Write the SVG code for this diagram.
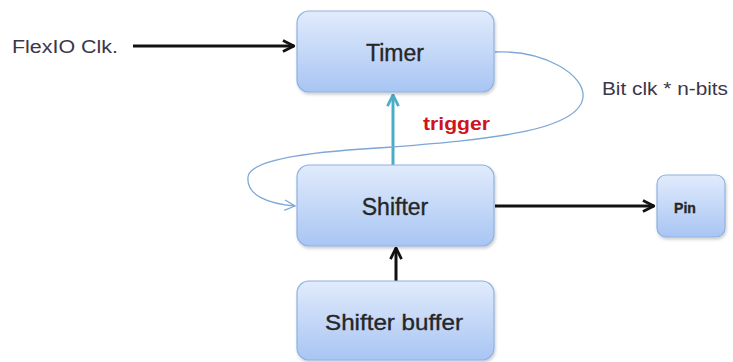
<svg xmlns="http://www.w3.org/2000/svg" width="733" height="362" viewBox="0 0 733 362">
<defs>
<linearGradient id="boxg" x1="0" y1="0" x2="0" y2="1">
<stop offset="0" stop-color="#e1ebfc"/>
<stop offset="1" stop-color="#a8c5f3"/>
</linearGradient>
<filter id="sh" x="-10%" y="-10%" width="125%" height="130%">
<feDropShadow dx="1" dy="2" stdDeviation="1.5" flood-color="#000" flood-opacity="0.2"/>
</filter>
<marker id="ab" viewBox="0 0 10 10" refX="9" refY="5" markerWidth="4.6" markerHeight="4.6" orient="auto" markerUnits="strokeWidth">
<path d="M1,1 L9,5 L1,9" fill="none" stroke="#111" stroke-width="2"/>
</marker>
<marker id="ac" viewBox="0 0 10 10" refX="9" refY="5" markerWidth="4.6" markerHeight="4.6" orient="auto" markerUnits="strokeWidth">
<path d="M1,1 L9,5 L1,9" fill="none" stroke="#4bacc6" stroke-width="2"/>
</marker>
<marker id="al" viewBox="0 0 10 10" refX="9" refY="5" markerWidth="10" markerHeight="10" orient="auto" markerUnits="strokeWidth">
<path d="M1,1 L9,5 L1,9" fill="none" stroke="#7ea7d8" stroke-width="1"/>
</marker>
</defs>
<style>
.box{fill:url(#boxg);stroke:#8fb1e0;stroke-width:1.2;filter:url(#sh)}
.bt{font-family:"Liberation Sans",Arial,sans-serif;fill:#262626;stroke:#262626;stroke-width:0.35;text-anchor:middle}
.lbl{font-family:"Liberation Sans",Arial,sans-serif;fill:#3d3648;font-size:18px}
.blk{stroke:#111;stroke-width:3;fill:none;marker-end:url(#ab)}
</style>
<g id="connectors">
<path class="blk" d="M133,46 L294,46"/>
<path class="blk" d="M495,206 L654,206"/>
<path class="blk" d="M396,281 L396,248"/>
<path d="M393,165 L393,95" stroke="#4bacc6" stroke-width="3" fill="none" marker-end="url(#ac)"/>
<path d="M495,52 C545,50 585,75 583,97 C580,132 480,140 393,147 C320,151 250,158 248,177 C246,196 270,204 295,206" fill="none" stroke="#7ea7d8" stroke-width="1.3" marker-end="url(#al)"/>
</g>
<g id="timer">
<rect class="box" x="297" y="11" width="197" height="81" rx="12"/>
<text class="bt" x="395" y="61" font-size="23">Timer</text>
</g>
<g id="shifter">
<rect class="box" x="297" y="165" width="197" height="81" rx="12"/>
<text class="bt" x="395" y="215" font-size="23">Shifter</text>
</g>
<g id="shifter-buffer">
<rect class="box" x="297" y="281" width="197" height="79" rx="12"/>
<text class="bt" x="394" y="330" font-size="22" textLength="138" lengthAdjust="spacingAndGlyphs">Shifter buffer</text>
</g>
<g id="pin">
<rect class="box" x="657" y="175" width="68" height="62" rx="9"/>
<text class="bt" x="685" y="213" font-size="14" font-weight="bold">Pin</text>
</g>
<text class="lbl" x="12" y="53" textLength="106" lengthAdjust="spacingAndGlyphs">FlexIO Clk.</text>
<text class="lbl" x="602" y="95" textLength="126" lengthAdjust="spacingAndGlyphs">Bit clk * n-bits</text>
<text x="423" y="130" font-family="Liberation Sans,Arial,sans-serif" font-size="19" font-weight="bold" fill="#d0141c" textLength="67" lengthAdjust="spacingAndGlyphs">trigger</text>
</svg>
